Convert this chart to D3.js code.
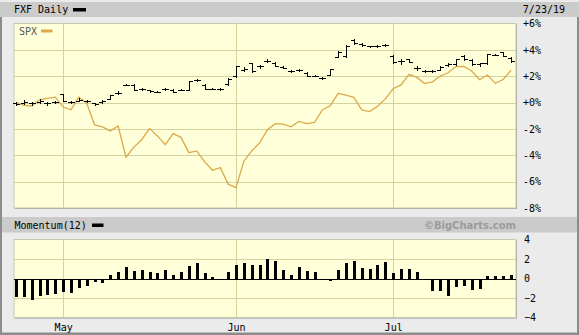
<!DOCTYPE html>
<html>
<head>
  <meta charset="utf-8">
  <title>FXF Daily</title>
  <style>
    body { margin: 0; background: #ebebeb; }
    svg { display: block; }
    text { font-family: "DejaVu Sans Mono", monospace; font-size: 10px; fill: #000; }
  </style>
</head>
<body>
  <svg width="579" height="335"></svg>
  <script src="https://cdnjs.cloudflare.com/ajax/libs/d3/7.8.5/d3.min.js"></script>
  <script>
    // trading days, 4/23/19 - 7/23/19
    const dates = [
      '4/23','4/24','4/25','4/26','4/29','4/30',
      '5/1','5/2','5/3','5/6','5/7','5/8','5/9','5/10','5/13','5/14','5/15','5/16','5/17','5/20','5/21','5/22','5/23','5/24','5/28','5/29','5/30','5/31',
      '6/3','6/4','6/5','6/6','6/7','6/10','6/11','6/12','6/13','6/14','6/17','6/18','6/19','6/20','6/21','6/24','6/25','6/26','6/27','6/28',
      '7/1','7/2','7/3','7/5','7/8','7/9','7/10','7/11','7/12','7/15','7/16','7/17','7/18','7/19','7/22','7/23'
    ];
    const monthStarts = ['5/1', '6/3', '7/1'];
    const monthLabels = ['May', 'Jun', 'Jul'];

    // FXF, % change
    const fxfOpen = [
      0.0, 0.0, -0.05, 0.05, -0.05, 0.05, 0.64, 0.05, 0.15, 0.1,
      -0.05, 0.05, 0.28, 0.76, 1.37, 1.37, 1.04, 0.92, 0.84, 1.0,
      0.95, 0.97, 0.97, 1.7, 1.35, 1.04, 1.02, 1.4, 1.98, 2.5,
      3.0, 2.75, 3.15, 3.0, 2.7, 2.36, 2.45, 2.28, 2.05, 1.85,
      2.13, 3.45, 3.5, 4.72, 4.45, 4.26, 4.26, 4.34, 3.55, 3.12,
      3.3, 2.62, 2.43, 2.38, 2.5, 2.85, 2.9, 3.5, 3.25, 2.9,
      2.98, 3.63, 3.8, 3.4
    ];
    const fxfHigh = [
      0.05, 0.2, 0.05, 0.25, 0.05, 0.15, 0.68, 0.12, 0.35, 0.2,
      0.0, 0.2, 0.6, 0.85, 1.4, 1.4, 1.1, 0.95, 0.88, 1.1,
      1.0, 1.0, 1.62, 1.8, 1.38, 1.08, 1.1, 1.88, 2.78, 2.7,
      3.02, 2.85, 3.3, 3.05, 2.75, 2.45, 2.55, 2.3, 2.12, 1.92,
      2.55, 3.9, 4.35, 4.8, 4.55, 4.3, 4.35, 4.42, 3.58, 3.3,
      3.32, 2.75, 2.5, 2.45, 2.75, 3.0, 3.32, 3.6, 3.3, 3.0,
      3.72, 3.7, 3.82, 3.45
    ];
    const fxfLow = [
      -0.2, -0.1, -0.15, 0.0, -0.15, -0.05, 0.12, 0.0, 0.1, 0.05,
      -0.2, 0.0, 0.25, 0.65, 1.3, 0.95, 0.95, 0.82, 0.8, 0.95,
      0.78, 0.92, 0.95, 1.6, 1.0, 1.0, 0.98, 1.35, 1.95, 2.4,
      2.35, 2.6, 3.05, 2.75, 2.6, 2.3, 2.4, 2.0, 1.98, 1.78,
      2.1, 3.45, 3.45, 4.45, 4.3, 4.2, 4.18, 4.28, 3.0, 2.95,
      3.05, 2.5, 2.35, 2.3, 2.45, 2.8, 2.88, 3.25, 2.88, 2.8,
      2.95, 3.58, 3.5, 3.08
    ];
    const fxfClose = [
      -0.1, 0.03, -0.05, 0.13, -0.05, 0.05, 0.15, 0.05, 0.2, 0.1,
      -0.1, 0.1, 0.55, 0.76, 1.37, 0.97, 1.04, 0.86, 0.84, 1.04,
      0.8, 0.97, 1.6, 1.72, 1.02, 1.04, 1.02, 1.8, 2.74, 2.54,
      2.41, 2.79, 3.19, 2.79, 2.66, 2.36, 2.49, 2.05, 2.05, 1.85,
      2.54, 3.85, 4.31, 4.52, 4.39, 4.26, 4.26, 4.34, 3.05, 3.12,
      3.1, 2.62, 2.43, 2.38, 2.7, 2.92, 3.3, 3.3, 2.92, 2.98,
      3.7, 3.63, 3.55, 3.12
    ];

    // SPX, % change
    const spx = [
      0.00, -0.22, -0.26, 0.21, 0.32, 0.41, -0.34, -0.55, 0.41, -0.04,
      -1.69, -1.85, -2.15, -1.78, -4.15, -3.38, -2.82, -1.96, -2.53, -3.19,
      -2.36, -2.64, -3.80, -3.67, -4.48, -5.14, -4.94, -6.19, -6.45, -4.45,
      -3.67, -3.07, -2.06, -1.60, -1.64, -1.84, -1.43, -1.59, -1.50, -0.54,
      -0.25, 0.70, 0.57, 0.40, -0.56, -0.68, -0.30, 0.28, 1.05, 1.34,
      2.12, 1.93, 1.44, 1.57, 2.02, 2.26, 2.73, 2.75, 2.40, 1.73,
      2.09, 1.46, 1.75, 2.45
    ];

    // Momentum(12)
    const momentum = [
      -1.86, -1.93, -2.17, -1.83, -1.72, -1.58, -1.38, -1.48, -1.0, -0.8,
      -0.38, -0.48, 0.31, 0.62, 1.14, 0.72, 0.83, 0.62, 0.52, 0.83,
      0.41, 0.62, 1.24, 1.58, 0.55, 0.14, -0.14, 0.62, 1.38, 1.55,
      1.38, 1.38, 1.96, 1.76, 0.83, 0.31, 1.14, 0.72, 0.62, 0.0,
      -0.28, 0.83, 1.55, 1.76, 1.03, 0.93, 1.34, 1.69, 0.55, 1.0,
      1.0, 0.65, 0.0, -1.24, -1.31, -1.79, -0.83, -0.72, -1.17, -1.1,
      0.28, 0.21, 0.21, 0.41
    ];

    const priceTicks = [6, 4, 2, 0, -2, -4, -6, -8];
    const momTicks = [4, 2, 0, -2, -4];

    const W = 579, H = 335;
    const plotL = 14, plotR = 516;
    const main = {top: 23.5, bottom: 208};
    const mom = {top: 239.5, bottom: 317.5};
    const gridColor = '#d3d3a0';
    const plotFill = '#ffffd9';
    const spxColor = '#dba94c';

    let svg = d3.select('svg');

    let x = d3.scalePoint().domain(dates).range([16, 511]);
    let y = d3.scaleLinear().domain([-8, 6]).range([main.bottom, main.top]);
    let ym = d3.scaleLinear().domain([-4, 4]).range([mom.bottom, mom.top]);
    let px = (v) => Math.round(v) + 0.5;

    // frame
    svg.append('rect').attr('width', W).attr('height', H).attr('fill', '#ebebeb');
    svg.append('rect').attr('x', 0).attr('y', 2).attr('width', W).attr('height', 15).attr('fill', '#cbcbcb');
    svg.append('rect').attr('x', 2).attr('y', 217).attr('width', W - 2).attr('height', 15.5).attr('fill', '#cbcbcb');
    svg.append('rect').attr('x', 0).attr('y', 17).attr('width', 2).attr('height', H - 17).attr('fill', '#8c8c8c');
    svg.append('rect').attr('x', W - 2).attr('y', 17).attr('width', 2).attr('height', H - 17).attr('fill', '#8c8c8c');
    svg.append('rect').attr('x', 0).attr('y', H - 2.5).attr('width', W).attr('height', 2.5).attr('fill', '#8c8c8c');

    // plot panels
    [main, mom].forEach((p) => {
      svg.append('rect')
         .attr('x', plotL + 1).attr('y', p.top + 1)
         .attr('width', plotR - plotL).attr('height', p.bottom - p.top)
         .attr('fill', '#9a9a9a');
      svg.append('rect')
         .attr('x', plotL).attr('y', p.top)
         .attr('width', plotR - plotL).attr('height', p.bottom - p.top)
         .attr('fill', plotFill).attr('stroke', '#c9c9b0');
    });

    // grid
    let gMain = svg.append('g');
    gMain.selectAll('line.h')
         .data(priceTicks.filter((d) => d > -8 && d < 6))
         .enter().append('line')
         .attr('x1', plotL).attr('x2', plotR)
         .attr('y1', (d) => px(y(d))).attr('y2', (d) => px(y(d)))
         .attr('stroke', gridColor);
    gMain.selectAll('line.v')
         .data(monthStarts)
         .enter().append('line')
         .attr('x1', (d) => px(x(d))).attr('x2', (d) => px(x(d)))
         .attr('y1', main.top).attr('y2', main.bottom)
         .attr('stroke', gridColor);

    let gMom = svg.append('g');
    gMom.selectAll('line.h')
        .data([2, -2])
        .enter().append('line')
        .attr('x1', plotL).attr('x2', plotR)
        .attr('y1', (d) => px(ym(d))).attr('y2', (d) => px(ym(d)))
        .attr('stroke', gridColor);
    gMom.selectAll('line.v')
        .data(monthStarts)
        .enter().append('line')
        .attr('x1', (d) => px(x(d))).attr('x2', (d) => px(x(d)))
        .attr('y1', mom.top).attr('y2', mom.bottom)
        .attr('stroke', gridColor);

    // SPX line
    let line = d3.line()
                 .x((d, i) => x(dates[i]))
                 .y((d) => y(d));
    svg.append('path')
       .datum(spx)
       .attr('d', line)
       .attr('fill', 'none')
       .attr('stroke', spxColor)
       .attr('stroke-width', 1.3);

    // FXF OHLC bars
    let bars = svg.append('g').attr('stroke', '#000').attr('stroke-width', 1);
    dates.forEach((d, i) => {
      let cx = px(x(d));
      let g = bars.append('g');
      g.append('line')
       .attr('x1', cx).attr('x2', cx)
       .attr('y1', Math.round(y(fxfHigh[i]))).attr('y2', Math.round(y(fxfLow[i])) + 1);
      g.append('line')
       .attr('x1', cx - 3.5).attr('x2', cx)
       .attr('y1', px(y(fxfOpen[i]))).attr('y2', px(y(fxfOpen[i])));
      g.append('line')
       .attr('x1', cx).attr('x2', cx + 3.5)
       .attr('y1', px(y(fxfClose[i]))).attr('y2', px(y(fxfClose[i])));
    });

    // momentum bars
    svg.append('g')
       .selectAll('rect')
       .data(momentum)
       .enter().append('rect')
       .attr('x', (d, i) => Math.round(x(dates[i])) - 1)
       .attr('width', 3)
       .attr('y', (d) => Math.round(ym(Math.max(0, d))))
       .attr('height', (d) => Math.abs(Math.round(ym(d)) - Math.round(ym(0))))
       .attr('fill', '#000');
    svg.append('line')
       .attr('x1', plotL).attr('x2', plotR)
       .attr('y1', px(ym(0))).attr('y2', px(ym(0)))
       .attr('stroke', '#000');

    // axes
    let fmt = (d) => (d >= 0 ? '+' : '') + d + '%';
    let yAxis = d3.axisRight(y).tickValues(priceTicks).tickFormat(fmt).tickSize(0).tickPadding(7);
    svg.append('g')
       .attr('transform', 'translate(' + plotR + ',0)')
       .call(yAxis)
       .call((g) => g.select('.domain').remove())
       .selectAll('text').attr('font-family', null).attr('font-size', null);

    let ymAxis = d3.axisRight(ym).tickValues(momTicks).tickSize(0).tickPadding(8);
    svg.append('g')
       .attr('transform', 'translate(' + plotR + ',0)')
       .call(ymAxis)
       .call((g) => g.select('.domain').remove())
       .selectAll('text').attr('font-family', null).attr('font-size', null);

    let xAxis = d3.axisBottom(x)
                  .tickValues(monthStarts)
                  .tickFormat((d, i) => monthLabels[i])
                  .tickSize(0).tickPadding(5);
    svg.append('g')
       .attr('transform', 'translate(0,' + (mom.bottom + 1) + ')')
       .call(xAxis)
       .call((g) => g.select('.domain').remove())
       .selectAll('text').attr('font-family', null).attr('font-size', null);

    // titles and legends
    svg.append('text').attr('x', 14).attr('y', 13).text('FXF Daily');
    svg.append('rect').attr('x', 73).attr('y', 8).attr('width', 13).attr('height', 3.5).attr('fill', '#000');
    svg.append('text').attr('x', 565).attr('y', 13).attr('text-anchor', 'end').text('7/23/19');

    svg.append('text').attr('x', 19).attr('y', 34.5).attr('fill', '#555').style('fill', '#555').text('SPX');
    svg.append('rect').attr('x', 41).attr('y', 29.5).attr('width', 11.5).attr('height', 3).attr('fill', spxColor);

    svg.append('text').attr('x', 14.5).attr('y', 229).text('Momentum(12)');
    svg.append('rect').attr('x', 92).attr('y', 223.5).attr('width', 11.5).attr('height', 3.5).attr('fill', '#000');
    svg.append('text')
       .attr('x', 516).attr('y', 228.5)
       .attr('text-anchor', 'end')
       .style('font-family', '"DejaVu Sans", sans-serif')
       .style('font-weight', 'bold')
       .style('fill', '#9b9b9b')
       .text('\u00A9BigCharts.com');
  </script>
</body>
</html>
